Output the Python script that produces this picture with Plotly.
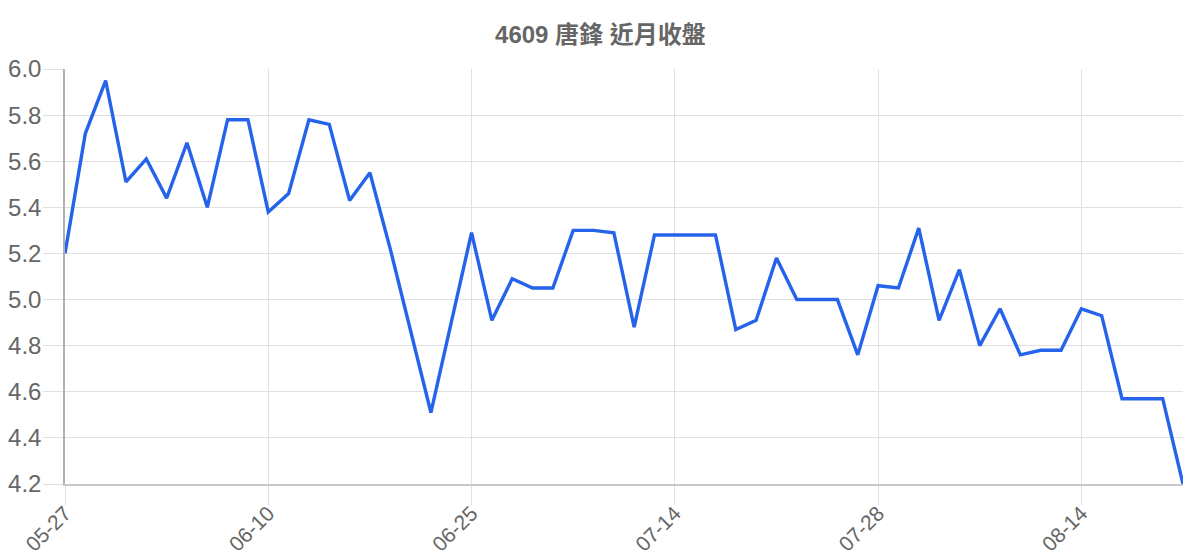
import plotly.graph_objects as go

# 近月收盤資料
fechas = ['05-27', '05-28', '05-29', '05-30', '06-02', '06-03', '06-04', '06-05', '06-06', '06-09',
          '06-10', '06-11', '06-12', '06-13', '06-16', '06-17', '06-18', '06-19', '06-20', '06-24',
          '06-25', '06-26', '06-27', '06-30', '07-01', '07-02', '07-03', '07-07', '07-09', '07-11',
          '07-14', '07-15', '07-16', '07-17', '07-18', '07-21', '07-22', '07-23', '07-24', '07-25',
          '07-28', '07-29', '07-30', '07-31', '08-01', '08-04', '08-06', '08-08', '08-11', '08-13',
          '08-14', '08-15', '08-18', '08-19', '08-20', '08-21']
cierre = [5.20, 5.72, 5.95, 5.51, 5.61, 5.44, 5.68, 5.40, 5.78, 5.78,
          5.38, 5.46, 5.78, 5.76, 5.43, 5.55, 5.22, 4.87, 4.51, 4.90,
          5.29, 4.91, 5.09, 5.05, 5.05, 5.30, 5.30, 5.29, 4.88, 5.28,
          5.28, 5.28, 5.28, 4.87, 4.91, 5.18, 5.00, 5.00, 5.00, 4.76,
          5.06, 5.05, 5.31, 4.91, 5.13, 4.80, 4.96, 4.76, 4.78, 4.78,
          4.96, 4.93, 4.57, 4.57, 4.57, 4.20]
titulo = '4609 唐鋒 近月收盤'
y_ticks = [4.2, 4.4, 4.6, 4.8, 5.0, 5.2, 5.4, 5.6, 5.8, 6.0]

fuente = 'Liberation Sans, Arial, Noto Sans CJK TC, sans-serif'
gris_grid = '#e0e0e0'

fig = go.Figure(go.Scatter(x=fechas, y=cierre, mode='lines',
                           line=dict(color='#2563eb', width=3.4),
                           hoverinfo='x+y'))

# la página tiene 8px de margen, se descuenta aquí
fig.update_layout(
    width=1192, height=552,
    margin=dict(l=57, r=17, t=61, b=76, pad=0),
    paper_bgcolor='white', plot_bgcolor='white',
    showlegend=False,
    title=dict(text='<b>' + titulo + '</b>', x=0.497, xanchor='center', y=0.951, yanchor='middle',
               font=dict(family=fuente, size=24, color='#666666')),
    font=dict(family=fuente, color='#666666'),
)

fig.update_xaxes(type='category', range=[0, len(fechas) - 1],
                 tickvals=fechas[::10], ticktext=fechas[::10],
                 tickangle=-45, tickfont=dict(size=21, color='#666666'),
                 ticklabelstandoff=-12,
                 showgrid=True, gridcolor=gris_grid, gridwidth=1.2,
                 ticks='outside', ticklen=19, tickcolor=gris_grid, tickwidth=1.2,
                 showline=True, linecolor='#c8c8c8', linewidth=1.5,
                 zeroline=False, automargin=False)

fig.update_yaxes(range=[4.2, 6.0], tickvals=y_ticks,
                 ticktext=[f'{v:.1f}' for v in y_ticks],
                 tickfont=dict(size=24, color='#666666'),
                 ticklabelstandoff=-3,
                 showgrid=True, gridcolor=gris_grid, gridwidth=1.2,
                 ticks='outside', ticklen=20, tickcolor=gris_grid, tickwidth=1.2,
                 showline=True, linecolor='#b0b0b0', linewidth=1.5,
                 zeroline=False, automargin=False)

fig.write_html('out.html')
